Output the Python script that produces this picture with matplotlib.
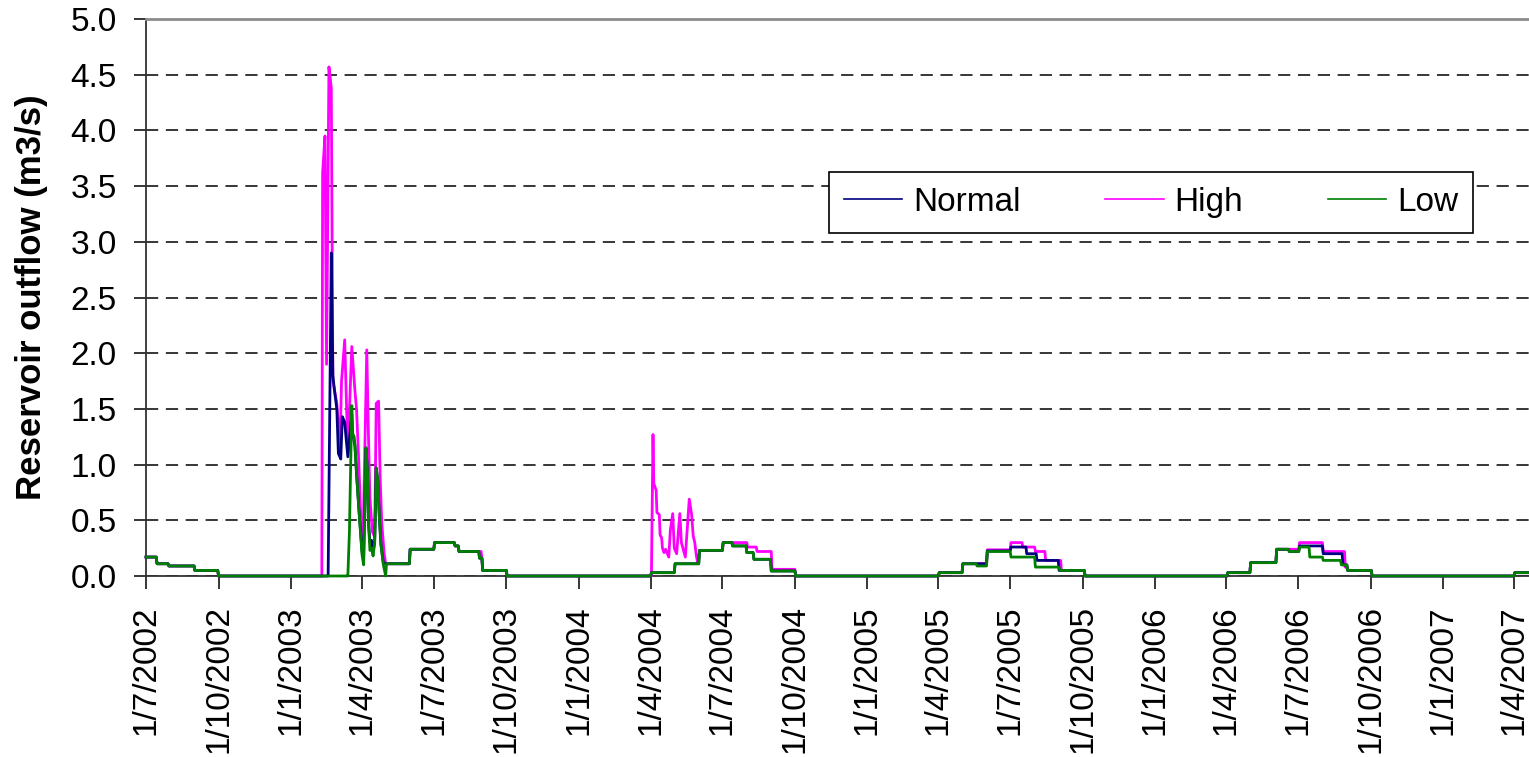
import matplotlib
matplotlib.use('Agg')
import matplotlib.pyplot as plt
import numpy as np
import pandas as pd

plt.rcParams['font.family'] = ['Liberation Sans', 'DejaVu Sans']

tick_labels = ['1/7/2002', '1/10/2002', '1/1/2003', '1/4/2003', '1/7/2003', '1/10/2003',
               '1/1/2004', '1/4/2004', '1/7/2004', '1/10/2004', '1/1/2005', '1/4/2005',
               '1/7/2005', '1/10/2005', '1/1/2006', '1/4/2006', '1/7/2006', '1/10/2006',
               '1/1/2007', '1/4/2007']

# ---- 2002 recession, same for all three runs (monthly step levels)
start_2002 = ['2002-07-01', '2002-07-15', '2002-07-30', '2002-09-01', '2002-10-01']
level_2002 = [0.17, 0.11, 0.09, 0.05, 0.0]

# ---- 2003 flood (daily values)
high_2003_dates = ['2003-02-09', '2003-02-10', '2003-02-13', '2003-02-15', '2003-02-18', '2003-02-21',
                   '2003-02-23', '2003-02-28', '2003-03-04', '2003-03-06', '2003-03-10', '2003-03-14',
                   '2003-03-19', '2003-03-23', '2003-03-25', '2003-03-28', '2003-03-31', '2003-04-02',
                   '2003-04-07', '2003-04-09', '2003-04-11', '2003-04-14', '2003-04-17', '2003-04-19',
                   '2003-04-22', '2003-04-24', '2003-04-26', '2003-04-29', '2003-05-01']
high_2003 = [0, 3.62, 3.95, 1.9, 4.57, 4.38, 1.75, 1.55, 1.15, 1.75, 2.12, 1.10,
             2.06, 1.66, 1.5, 1.0, 0.4, 0.22, 2.03, 1.3, 0.7, 0.4, 0.35, 1.55,
             1.57, 0.87, 0.48, 0.2, 0.11]

normal_2003_dates = ['2003-02-17', '2003-02-21', '2003-02-23', '2003-02-25', '2003-02-28', '2003-03-02',
                     '2003-03-05', '2003-03-07', '2003-03-10', '2003-03-12', '2003-03-14', '2003-03-19',
                     '2003-03-20', '2003-03-23', '2003-03-25', '2003-03-28', '2003-04-01', '2003-04-03',
                     '2003-04-06', '2003-04-08', '2003-04-09', '2003-04-11', '2003-04-13', '2003-04-15',
                     '2003-04-17', '2003-04-19', '2003-04-21', '2003-04-23', '2003-04-25', '2003-04-28',
                     '2003-05-01']
normal_2003 = [0, 2.9, 1.8, 1.67, 1.5, 1.1, 1.05, 1.43, 1.38, 1.22, 1.07, 1.45,
               1.28, 1.17, 0.92, 0.6, 0.22, 0.15, 1.15, 0.92, 0.5, 0.3, 0.32, 0.22,
               0.3, 0.97, 0.85, 0.52, 0.28, 0.12, 0.11]

low_2003_dates = ['2003-03-14', '2003-03-16', '2003-03-19', '2003-03-20', '2003-03-22', '2003-03-23',
                  '2003-03-25', '2003-03-28', '2003-04-01', '2003-04-03', '2003-04-06', '2003-04-08',
                  '2003-04-09', '2003-04-11', '2003-04-13', '2003-04-15', '2003-04-17', '2003-04-19',
                  '2003-04-21', '2003-04-23', '2003-04-25', '2003-04-28', '2003-05-01']
low_2003 = [0, 0.4, 1.53, 1.28, 1.25, 1.17, 0.92, 0.6, 0.19, 0.1, 1.15, 0.92,
            0.5, 0.23, 0.25, 0.18, 0.3, 0.97, 0.85, 0.52, 0.28, 0.1, 0.0]

# ---- 2003 recession steps
start_rec_2003 = ['2003-05-02', '2003-06-01', '2003-07-02', '2003-07-28', '2003-08-02', '2003-08-28',
                  '2003-09-01', '2003-10-02']
start_rec_2003_high = ['2003-05-02', '2003-06-01', '2003-07-02', '2003-07-28', '2003-08-02', '2003-08-31',
                       '2003-09-01', '2003-10-02']
level_rec_2003 = [0.11, 0.24, 0.30, 0.27, 0.22, 0.16, 0.05, 0.0]

# ---- 2004
start_2004 = ['2004-04-02', '2004-05-02', '2004-06-02', '2004-07-02', '2004-07-14', '2004-08-01',
              '2004-08-10', '2004-09-01', '2004-10-02']
low_2004 = [0.03, 0.11, 0.23, 0.30, 0.27, 0.21, 0.15, 0.045, 0.0]

high_2004_dates = ['2004-04-02', '2004-04-04', '2004-04-05', '2004-04-08', '2004-04-09', '2004-04-12',
                   '2004-04-13', '2004-04-15', '2004-04-16', '2004-04-18', '2004-04-20', '2004-04-24',
                   '2004-04-26', '2004-04-29', '2004-05-01', '2004-05-04', '2004-05-08', '2004-05-10',
                   '2004-05-13', '2004-05-15', '2004-05-20', '2004-05-23', '2004-05-25', '2004-05-27',
                   '2004-05-29', '2004-05-31']
high_2004 = [0, 1.27, 0.83, 0.77, 0.57, 0.55, 0.37, 0.34, 0.25, 0.21, 0.24, 0.17,
             0.41, 0.56, 0.25, 0.2, 0.56, 0.3, 0.22, 0.17, 0.69, 0.55, 0.36, 0.3,
             0.18, 0.11]
start_2004_high = ['2004-06-02', '2004-07-02', '2004-08-02', '2004-08-14', '2004-09-02', '2004-10-02']
high_2004_rec = [0.23, 0.30, 0.26, 0.22, 0.06, 0.0]

# ---- 2005
start_2005_low = ['2005-04-02', '2005-05-02', '2005-05-20', '2005-06-02', '2005-07-02', '2005-08-02',
                  '2005-09-02', '2005-10-04']
low_2005 = [0.03, 0.11, 0.09, 0.22, 0.17, 0.08, 0.05, 0.0]
start_2005_high = ['2005-04-02', '2005-05-02', '2005-06-02', '2005-07-02', '2005-07-17', '2005-08-02',
                   '2005-08-15', '2005-09-04', '2005-10-04']
high_2005 = [0.03, 0.11, 0.235, 0.30, 0.26, 0.22, 0.14, 0.05, 0.0]
start_2005_normal = ['2005-04-02', '2005-05-02', '2005-06-02', '2005-07-02', '2005-07-22', '2005-08-04',
                     '2005-09-01', '2005-10-04']
normal_2005 = [0.03, 0.11, 0.225, 0.26, 0.20, 0.14, 0.05, 0.0]

# ---- 2006
start_2006_low = ['2006-04-03', '2006-05-02', '2006-06-04', '2006-06-20', '2006-07-03', '2006-07-16',
                  '2006-08-02', '2006-08-25', '2006-09-02', '2006-10-03']
low_2006 = [0.03, 0.12, 0.24, 0.22, 0.26, 0.17, 0.14, 0.10, 0.05, 0.0]
start_2006_high = ['2006-04-03', '2006-05-02', '2006-06-04', '2006-07-03', '2006-08-02', '2006-08-30',
                   '2006-09-02', '2006-10-03']
high_2006 = [0.03, 0.12, 0.24, 0.30, 0.22, 0.08, 0.05, 0.0]
start_2006_normal = ['2006-04-03', '2006-05-02', '2006-06-04', '2006-06-20', '2006-07-03', '2006-08-02',
                     '2006-08-27', '2006-09-02', '2006-10-03']
normal_2006 = [0.03, 0.12, 0.24, 0.22, 0.27, 0.20, 0.10, 0.05, 0.0]

# ---- 2007
start_2007 = ['2007-04-02', '2007-04-30']
level_2007 = [0.03, 0.03]


def build(segments):
    # segments: ('step', starts, levels) or ('line', dates, values)
    d, v = [], []
    prev = None
    for kind, dates, vals in segments:
        dates = list(pd.to_datetime(dates))
        if prev == 'step':
            d.append(dates[0] - pd.Timedelta(days=1))
            v.append(v[-1])
        for i in range(len(dates)):
            if kind == 'step' and i > 0:
                d.append(dates[i] - pd.Timedelta(days=1))
                v.append(vals[i - 1])
            d.append(dates[i])
            v.append(vals[i])
        prev = kind
    return d, v


normal_d, normal_v = build([
    ('step', start_2002, level_2002),
    ('line', normal_2003_dates, normal_2003),
    ('step', start_rec_2003, level_rec_2003),
    ('step', start_2004, low_2004),
    ('step', start_2005_normal, normal_2005),
    ('step', start_2006_normal, normal_2006),
    ('step', start_2007, level_2007)])

high_d, high_v = build([
    ('step', start_2002, level_2002),
    ('line', high_2003_dates, high_2003),
    ('step', start_rec_2003_high, level_rec_2003),
    ('line', high_2004_dates, high_2004),
    ('step', start_2004_high, high_2004_rec),
    ('step', start_2005_high, high_2005),
    ('step', start_2006_high, high_2006),
    ('step', start_2007, level_2007)])

low_d, low_v = build([
    ('step', start_2002, level_2002),
    ('line', low_2003_dates, low_2003),
    ('step', start_rec_2003, level_rec_2003),
    ('step', start_2004, low_2004),
    ('step', start_2005_low, low_2005),
    ('step', start_2006_low, low_2006),
    ('step', start_2007, level_2007)])

fig = plt.figure(figsize=(15.29, 7.57), dpi=100)
ax = fig.add_axes([146 / 1529, 181 / 757, 1383 / 1529, 557 / 757])

lh, = ax.plot(high_d, high_v, color='#FF00FF', lw=2.0, label='High', clip_on=False, zorder=3)
ln, = ax.plot(normal_d, normal_v, color='#000080', lw=2.0, label='Normal', clip_on=False, zorder=4)
ll, = ax.plot(low_d, low_v, color='#008000', lw=2.0, label='Low', clip_on=False, zorder=5)

ax.set_xlim(pd.Timestamp('2002-07-01'), pd.Timestamp('2007-04-20'))
ax.set_ylim(0, 5)
ax.set_yticks(np.arange(0, 5.01, 0.5))
ax.set_yticklabels(['%.1f' % t for t in np.arange(0, 5.01, 0.5)])
ax.set_xticks(pd.to_datetime(tick_labels, dayfirst=True))
ax.set_xticklabels(tick_labels, rotation=90)

ax.yaxis.grid(True, color='black', linestyle=(0, (8, 5)), linewidth=1.1)
ax.tick_params(axis='both', direction='out', length=9, width=1.1, labelsize=24, pad=12)

for s in ['left', 'bottom']:
    ax.spines[s].set_color('#333333')
    ax.spines[s].set_linewidth(1.3)
ax.spines['top'].set_color('#8c8c8c')
ax.spines['top'].set_linewidth(2)
ax.spines['right'].set_visible(False)

ax.set_ylabel('Reservoir outflow (m3/s)', fontsize=25, fontweight='bold')
ax.yaxis.set_label_coords(-0.071, 0.5)

leg = ax.legend([ln, lh, ll], ['Normal', 'High', 'Low'], ncol=3, mode='expand',
                loc='lower left',
                bbox_to_anchor=((829 - 146) / 1383, (576 - 233) / 557, 644 / 1383, 70 / 557),
                fontsize=24, fancybox=False, framealpha=1, edgecolor='black',
                handlelength=1.75, handletextpad=0.33, borderpad=0.45, borderaxespad=0)
leg.get_frame().set_linewidth(1.2)
for line in leg.get_lines():
    line.set_linewidth(1.2)

fig.savefig('out.png', dpi=100)
